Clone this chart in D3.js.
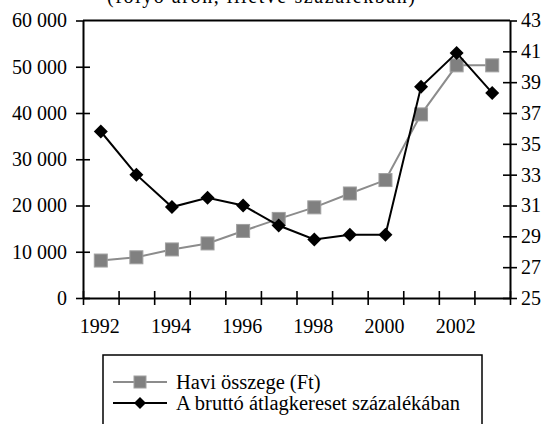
<!DOCTYPE html>
<html>
<head>
<meta charset="utf-8">
<script src="https://cdn.jsdelivr.net/npm/d3@7"></script>
<style>
  body { margin: 0; background: #fff; }
  svg text { font-family: "Liberation Serif", "Times New Roman", serif; fill: #000; }
</style>
</head>
<body>
<svg id="chart" width="549" height="424"></svg>
<script>
// data
var years = [1992, 1993, 1994, 1995, 1996, 1997, 1998, 1999, 2000, 2001, 2002, 2003];
var haviOsszeg = [8100, 8800, 10500, 11800, 14500, 17100, 19600, 22600, 25500, 39700, 50300, 50300];
var bruttoSzazalek = [35.8, 33.0, 30.9, 31.5, 31.0, 29.7, 28.8, 29.1, 29.1, 38.7, 40.9, 38.3];
var leftTicks = [0, 10000, 20000, 30000, 40000, 50000, 60000];
var rightTicks = [25, 27, 29, 31, 33, 35, 37, 39, 41, 43];
var yearLabels = [1992, 1994, 1996, 1998, 2000, 2002];
var seriesNames = ["Havi összege (Ft)", "A bruttó átlagkereset százalékában"];

var svg = d3.select("#chart");
var plotLeft = 83, plotRight = 510, plotTop = 20.5, plotBottom = 298;

var x = d3.scaleLinear().domain([1991.5, 2003.5]).range([plotLeft, plotRight]);
var yL = d3.scaleLinear().domain([0, 60000]).range([plotBottom, plotTop]);
var yR = d3.scaleLinear().domain([25, 43]).range([plotBottom, plotTop]);

var fmt = function(d) { return d3.format(",")(d).replace(/,/g, " "); };

// title (cut off at the top of the picture)
svg.append("text")
  .attr("x", 261).attr("y", 3)
  .attr("text-anchor", "middle")
  .attr("textLength", 308)
  .style("font-size", "20px")
  .text("(folyó áron, illetve százalékban)");

// top border
svg.append("line")
  .attr("x1", plotLeft).attr("x2", plotRight)
  .attr("y1", plotTop).attr("y2", plotTop)
  .attr("stroke", "#000").attr("stroke-width", 2);

function styleAxis(g) {
  g.attr("font-family", null);
  g.select(".domain").attr("stroke", "#000").attr("stroke-width", 2);
  g.selectAll(".tick line").attr("stroke", "#000").attr("stroke-width", 1.6);
  g.selectAll(".tick text").style("font-size", "20px");
}

// left axis
var gl = svg.append("g")
  .attr("transform", "translate(" + plotLeft + ",0)")
  .call(d3.axisLeft(yL).tickValues(leftTicks).tickFormat(fmt).tickSizeInner(7).tickSizeOuter(0).tickPadding(9));
styleAxis(gl);
gl.selectAll(".tick line").attr("x1", 7);
gl.selectAll(".tick").filter(function(d) { return d === 60000; }).select("line").attr("x1", 0);

// right axis
var gr = svg.append("g")
  .attr("transform", "translate(" + plotRight + ",0)")
  .call(d3.axisRight(yR).tickValues(rightTicks).tickSizeInner(7).tickSizeOuter(0).tickPadding(4));
styleAxis(gr);
gr.selectAll(".tick line").attr("x1", -7);
gr.selectAll(".tick").filter(function(d) { return d === 43; }).select("line").attr("x1", 0);

// bottom axis: ticks at year boundaries
var bounds = d3.range(years.length + 1).map(function(i) { return 1991.5 + i; });
var gb = svg.append("g")
  .attr("transform", "translate(0," + plotBottom + ")")
  .call(d3.axisBottom(x).tickValues(bounds).tickFormat("").tickSizeInner(7).tickSizeOuter(0));
styleAxis(gb);
gb.selectAll(".tick line").attr("y1", -7);

svg.append("g").selectAll("text")
  .data(yearLabels).enter().append("text")
  .attr("x", function(d) { return x(d) - 1; })
  .attr("y", plotBottom + 35)
  .attr("text-anchor", "middle")
  .style("font-size", "20px")
  .text(function(d) { return d; });

// series
var lineL = d3.line().x(function(d, i) { return x(years[i]); }).y(function(d) { return yL(d); });
var lineR = d3.line().x(function(d, i) { return x(years[i]); }).y(function(d) { return yR(d); });

var diamond = function(s) {
  return "M0," + (-s) + "L" + s + ",0L0," + s + "L" + (-s) + ",0Z";
};

svg.append("path").datum(haviOsszeg)
  .attr("d", lineL).attr("fill", "none")
  .attr("stroke", "#8c8c8c").attr("stroke-width", 2);

svg.append("g").selectAll("rect")
  .data(haviOsszeg).enter().append("rect")
  .attr("x", function(d, i) { return x(years[i]) - 6.5; })
  .attr("y", function(d) { return yL(d) - 6.5; })
  .attr("width", 13).attr("height", 13)
  .attr("fill", "#808080").attr("stroke", "#a0a0a0").attr("stroke-width", 1);

svg.append("path").datum(bruttoSzazalek)
  .attr("d", lineR).attr("fill", "none")
  .attr("stroke", "#000").attr("stroke-width", 2);

svg.append("g").selectAll("path")
  .data(bruttoSzazalek).enter().append("path")
  .attr("transform", function(d, i) { return "translate(" + x(years[i]) + "," + yR(d) + ")"; })
  .attr("d", diamond(7))
  .attr("fill", "#000");

// legend
var lg = svg.append("g");
lg.append("rect")
  .attr("x", 103).attr("y", 355)
  .attr("width", 379).attr("height", 90)
  .attr("fill", "none").attr("stroke", "#000").attr("stroke-width", 1.5);

var legendRows = [
  { name: seriesNames[0], y: 382, color: "#8c8c8c" },
  { name: seriesNames[1], y: 403, color: "#000" }
];
legendRows.forEach(function(r, i) {
  lg.append("line")
    .attr("x1", 113).attr("x2", 167).attr("y1", r.y).attr("y2", r.y)
    .attr("stroke", r.color).attr("stroke-width", 2);
  if (i === 0) {
    lg.append("rect").attr("x", 134).attr("y", r.y - 6).attr("width", 12).attr("height", 12)
      .attr("fill", "#808080").attr("stroke", "#a0a0a0");
  } else {
    lg.append("path").attr("transform", "translate(140," + r.y + ")")
      .attr("d", diamond(6)).attr("fill", "#000");
  }
  lg.append("text")
    .attr("x", 176).attr("y", r.y + 7)
    .style("font-size", "20.5px")
    .text(r.name);
});
</script>
</body>
</html>
